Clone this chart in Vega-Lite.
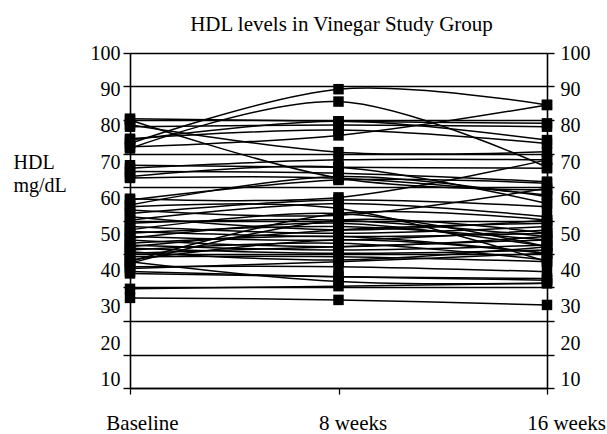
{
  "$schema": "https://vega.github.io/schema/vega-lite/v6.json",
  "width": 417,
  "height": 335,
  "autosize": {"type": "none"},
  "padding": {"left": 130, "top": 53, "right": 60, "bottom": 46},
  "background": "white",
  "title": {"text": "HDL levels in Vinegar Study Group", "font": "Liberation Serif", "fontSize": 21, "fontWeight": "normal", "color": "black", "anchor": "middle", "frame": "group", "baseline": "alphabetic", "offset": 21, "dx": 3, "dy": 29},
  "config": {"view": {"stroke": null}},
  "datasets": {
    "hdl": [
      {"id":1,"time":"Baseline","hdl":73.0},{"id":1,"time":"8 weeks","hdl":89.2},{"id":1,"time":"16 weeks","hdl":84.5},
      {"id":2,"time":"Baseline","hdl":71.5},{"id":2,"time":"8 weeks","hdl":85.5},{"id":2,"time":"16 weeks","hdl":65.9},
      {"id":3,"time":"Baseline","hdl":80.4},{"id":3,"time":"8 weeks","hdl":79.6},{"id":3,"time":"16 weeks","hdl":79.0},
      {"id":4,"time":"Baseline","hdl":80.0},{"id":4,"time":"8 weeks","hdl":62.7},{"id":4,"time":"16 weeks","hdl":59.1},
      {"id":5,"time":"Baseline","hdl":78.6},{"id":5,"time":"8 weeks","hdl":70.4},{"id":5,"time":"16 weeks","hdl":70.5},
      {"id":6,"time":"Baseline","hdl":78.0},{"id":6,"time":"8 weeks","hdl":78.5},{"id":6,"time":"16 weeks","hdl":78.0},
      {"id":7,"time":"Baseline","hdl":74.4},{"id":7,"time":"8 weeks","hdl":77.0},{"id":7,"time":"16 weeks","hdl":73.0},
      {"id":8,"time":"Baseline","hdl":72.0},{"id":8,"time":"8 weeks","hdl":75.4},{"id":8,"time":"16 weeks","hdl":84.5},
      {"id":9,"time":"Baseline","hdl":74.0},{"id":9,"time":"8 weeks","hdl":79.6},{"id":9,"time":"16 weeks","hdl":74.0},
      {"id":10,"time":"Baseline","hdl":66.5},{"id":10,"time":"8 weeks","hdl":65.9},{"id":10,"time":"16 weeks","hdl":65.6},
      {"id":11,"time":"Baseline","hdl":65.6},{"id":11,"time":"8 weeks","hdl":68.1},{"id":11,"time":"16 weeks","hdl":68.1},
      {"id":12,"time":"Baseline","hdl":64.6},{"id":12,"time":"8 weeks","hdl":64.1},{"id":12,"time":"16 weeks","hdl":61.6},
      {"id":13,"time":"Baseline","hdl":62.7},{"id":13,"time":"8 weeks","hdl":62.6},{"id":13,"time":"16 weeks","hdl":57.6},
      {"id":14,"time":"Baseline","hdl":63.1},{"id":14,"time":"8 weeks","hdl":65.9},{"id":14,"time":"16 weeks","hdl":55.1},
      {"id":15,"time":"Baseline","hdl":56.5},{"id":15,"time":"8 weeks","hdl":56.9},{"id":15,"time":"16 weeks","hdl":68.1},
      {"id":16,"time":"Baseline","hdl":56.1},{"id":16,"time":"8 weeks","hdl":62.1},{"id":16,"time":"16 weeks","hdl":61.1},
      {"id":17,"time":"Baseline","hdl":54.6},{"id":17,"time":"8 weeks","hdl":63.1},{"id":17,"time":"16 weeks","hdl":57.1},
      {"id":18,"time":"Baseline","hdl":54.1},{"id":18,"time":"8 weeks","hdl":53.6},{"id":18,"time":"16 weeks","hdl":37.7},
      {"id":19,"time":"Baseline","hdl":53.1},{"id":19,"time":"8 weeks","hdl":51.6},{"id":19,"time":"16 weeks","hdl":59.6},
      {"id":20,"time":"Baseline","hdl":52.1},{"id":20,"time":"8 weeks","hdl":56.1},{"id":20,"time":"16 weeks","hdl":54.1},
      {"id":21,"time":"Baseline","hdl":51.1},{"id":21,"time":"8 weeks","hdl":47.2},{"id":21,"time":"16 weeks","hdl":50.1},
      {"id":22,"time":"Baseline","hdl":50.1},{"id":22,"time":"8 weeks","hdl":55.1},{"id":22,"time":"16 weeks","hdl":51.1},
      {"id":23,"time":"Baseline","hdl":49.2},{"id":23,"time":"8 weeks","hdl":50.1},{"id":23,"time":"16 weeks","hdl":45.2},
      {"id":24,"time":"Baseline","hdl":48.2},{"id":24,"time":"8 weeks","hdl":46.2},{"id":24,"time":"16 weeks","hdl":48.2},
      {"id":25,"time":"Baseline","hdl":47.2},{"id":25,"time":"8 weeks","hdl":52.1},{"id":25,"time":"16 weeks","hdl":42.2},
      {"id":26,"time":"Baseline","hdl":46.7},{"id":26,"time":"8 weeks","hdl":45.2},{"id":26,"time":"16 weeks","hdl":46.2},
      {"id":27,"time":"Baseline","hdl":46.2},{"id":27,"time":"8 weeks","hdl":48.2},{"id":27,"time":"16 weeks","hdl":44.2},
      {"id":28,"time":"Baseline","hdl":45.2},{"id":28,"time":"8 weeks","hdl":44.2},{"id":28,"time":"16 weeks","hdl":47.2},
      {"id":29,"time":"Baseline","hdl":44.7},{"id":29,"time":"8 weeks","hdl":49.2},{"id":29,"time":"16 weeks","hdl":42.2},
      {"id":30,"time":"Baseline","hdl":44.2},{"id":30,"time":"8 weeks","hdl":42.2},{"id":30,"time":"16 weeks","hdl":45.2},
      {"id":31,"time":"Baseline","hdl":43.2},{"id":31,"time":"8 weeks","hdl":45.2},{"id":31,"time":"16 weeks","hdl":40.2},
      {"id":32,"time":"Baseline","hdl":42.7},{"id":32,"time":"8 weeks","hdl":41.2},{"id":32,"time":"16 weeks","hdl":42.7},
      {"id":33,"time":"Baseline","hdl":42.2},{"id":33,"time":"8 weeks","hdl":47.2},{"id":33,"time":"16 weeks","hdl":49.2},
      {"id":34,"time":"Baseline","hdl":41.7},{"id":34,"time":"8 weeks","hdl":40.2},{"id":34,"time":"16 weeks","hdl":41.2},
      {"id":35,"time":"Baseline","hdl":41.2},{"id":35,"time":"8 weeks","hdl":43.2},{"id":35,"time":"16 weeks","hdl":38.2},
      {"id":36,"time":"Baseline","hdl":40.7},{"id":36,"time":"8 weeks","hdl":38.2},{"id":36,"time":"16 weeks","hdl":42.2},
      {"id":37,"time":"Baseline","hdl":40.2},{"id":37,"time":"8 weeks","hdl":42.2},{"id":37,"time":"16 weeks","hdl":44.2},
      {"id":38,"time":"Baseline","hdl":39.2},{"id":38,"time":"8 weeks","hdl":39.2},{"id":38,"time":"16 weeks","hdl":37.7},
      {"id":39,"time":"Baseline","hdl":38.2},{"id":39,"time":"8 weeks","hdl":44.2},{"id":39,"time":"16 weeks","hdl":40.2},
      {"id":40,"time":"Baseline","hdl":37.7},{"id":40,"time":"8 weeks","hdl":52.1},{"id":40,"time":"16 weeks","hdl":50.1},
      {"id":41,"time":"Baseline","hdl":37.2},{"id":41,"time":"8 weeks","hdl":50.1},{"id":41,"time":"16 weeks","hdl":46.2},
      {"id":42,"time":"Baseline","hdl":36.2},{"id":42,"time":"8 weeks","hdl":36.2},{"id":42,"time":"16 weeks","hdl":34.7},
      {"id":43,"time":"Baseline","hdl":35.7},{"id":43,"time":"8 weeks","hdl":37.7},{"id":43,"time":"16 weeks","hdl":40.2},
      {"id":44,"time":"Baseline","hdl":34.8},{"id":44,"time":"8 weeks","hdl":33.2},{"id":44,"time":"16 weeks","hdl":32.2},
      {"id":45,"time":"Baseline","hdl":37.7},{"id":45,"time":"8 weeks","hdl":31.8},{"id":45,"time":"16 weeks","hdl":31.3},
      {"id":46,"time":"Baseline","hdl":29.6},{"id":46,"time":"8 weeks","hdl":30.4},{"id":46,"time":"16 weeks","hdl":31.3},
      {"id":47,"time":"Baseline","hdl":26.9},{"id":47,"time":"8 weeks","hdl":26.3},{"id":47,"time":"16 weeks","hdl":24.8},
      {"id":48,"time":"Baseline","hdl":34.2},{"id":48,"time":"8 weeks","hdl":33.2},{"id":48,"time":"16 weeks","hdl":32.7}
    ]
  },
  "data": {"name": "hdl"},
  "encoding": {
    "x": {
      "field": "time", "type": "ordinal",
      "scale": {"type": "point", "domain": ["Baseline", "8 weeks", "16 weeks"], "padding": 0},
      "axis": {
        "orient": "bottom", "title": null, "grid": false,
        "domain": true, "domainColor": "black", "domainWidth": 1.5,
        "ticks": true, "tickColor": "black", "tickSize": 6, "tickWidth": 1.3,
        "labelFont": "Liberation Serif", "labelFontSize": 21, "labelColor": "black",
        "labelAngle": 0, "labelBaseline": "alphabetic", "labelPadding": 35,
        "labelOffset": {"expr": "datum.value == 'Baseline' ? 12 : datum.value == '8 weeks' ? 14 : 19"}
      }
    }
  },
  "layer": [
    {
      "mark": {"type": "line", "interpolate": "cardinal", "color": "black", "strokeWidth": 1.5},
      "encoding": {
        "y": {
          "field": "hdl", "type": "quantitative",
          "scale": {"domain": [0, 100], "nice": false},
          "axis": {
            "orient": "left", "values": [0, 10, 20, 30, 40, 50, 60, 70, 80, 90, 100],
            "grid": true, "gridColor": "black", "gridWidth": 1.4, "gridOpacity": 1,
            "domain": true, "domainColor": "black", "domainWidth": 1.6,
            "ticks": true, "tickColor": "black", "tickSize": 7, "tickWidth": 1.4,
            "labelFont": "Liberation Serif", "labelFontSize": 20, "labelColor": "black",
            "labelPadding": 3, "labelBaseline": "middle", "labelOverlap": false,
            "labelOffset": {"expr": "0.5 + (100 - datum.value) * 0.27"},
            "labelExpr": "datum.value == 0 ? '' : datum.label",
            "title": ["HDL", "mg/dL"], "titleAngle": 0, "titleAlign": "left", "titleBaseline": "alphabetic",
            "titleX": -117, "titleY": 115, "titleFont": "Liberation Serif", "titleFontSize": 20,
            "titleFontWeight": "normal", "titleLineHeight": 23, "titleColor": "black"
          }
        },
        "detail": {"field": "id", "type": "nominal"},
        "order": {"value": null}
      }
    },
    {
      "mark": {"type": "point", "shape": "square", "filled": true, "size": 110, "color": "black", "opacity": 1, "strokeWidth": 0},
      "encoding": {
        "y": {
          "field": "hdl", "type": "quantitative",
          "scale": {"domain": [0, 100], "nice": false},
          "axis": {
            "orient": "right", "values": [0, 10, 20, 30, 40, 50, 60, 70, 80, 90, 100],
            "grid": false,
            "domain": true, "domainColor": "black", "domainWidth": 1.6,
            "ticks": true, "tickColor": "black", "tickSize": 7, "tickWidth": 1.4,
            "labelFont": "Liberation Serif", "labelFontSize": 20, "labelColor": "black",
            "labelPadding": 6, "labelBaseline": "middle", "labelOverlap": false,
            "labelOffset": {"expr": "0.5 + (100 - datum.value) * 0.27"},
            "labelExpr": "datum.value == 0 ? '' : datum.label",
            "title": null
          }
        }
      }
    }
  ],
  "resolve": {"scale": {"y": "independent"}}
}
